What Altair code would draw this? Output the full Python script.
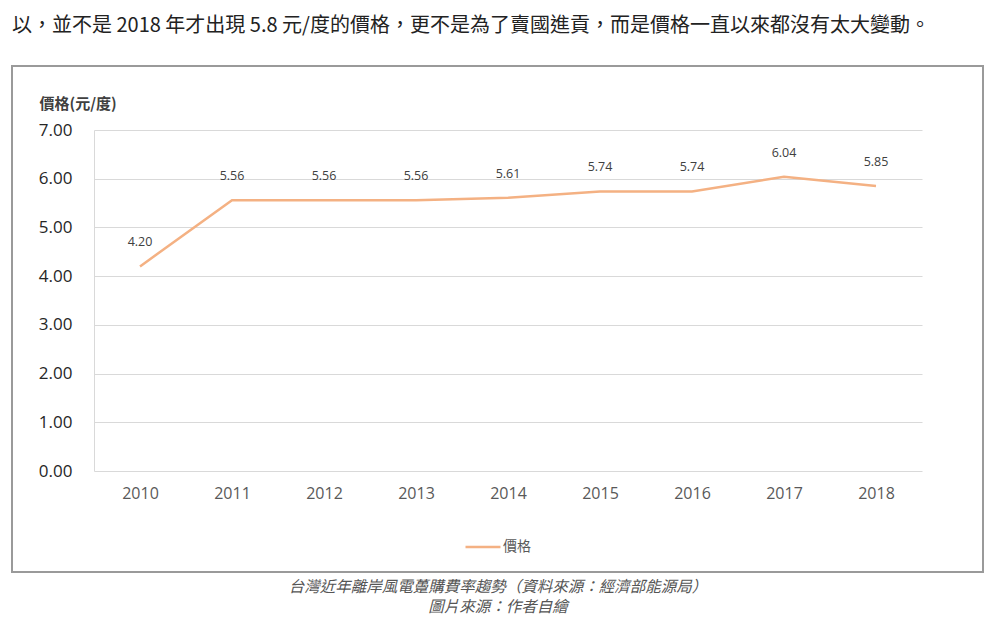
import altair as alt
import pandas as pd

years = ["2010", "2011", "2012", "2013", "2014", "2015", "2016", "2017", "2018"]
prices = [4.20, 5.56, 5.56, 5.56, 5.61, 5.74, 5.74, 6.04, 5.85]
series_name = "價格"
y_ticks = [0, 1, 2, 3, 4, 5, 6, 7]

intro_text = "以，並不是 2018 年才出現 5.8 元/度的價格，更不是為了賣國進貢，而是價格一直以來都沒有太大變動。"
caption_1 = "台灣近年離岸風電躉購費率趨勢（資料來源：經濟部能源局）"
caption_2 = "圖片來源：作者自繪"

df = pd.DataFrame({"year": years, "price": prices, "series": [series_name] * len(years)})
one = pd.DataFrame({"k": [0]})

CJK = "Noto Sans CJK TC"
LAT = "Open Sans"

W, H = 828, 341

x_enc = alt.X("year:N", sort=years,
              scale=alt.Scale(type="point", padding=0.5),
              axis=alt.Axis(title=None, labelAngle=0, labelFontSize=16, labelColor="#595959",
                            labelFont=LAT, labelPadding=14, ticks=False, domain=False, grid=False))
y_enc = alt.Y("price:Q", scale=alt.Scale(domain=[0, 7], nice=False, zero=True),
              axis=alt.Axis(values=y_ticks, format=".2f", labelFontSize=17, labelColor="#262626",
                            labelFont=LAT, labelPadding=22, ticks=False,
                            domain=True, domainColor="#D9D9D9", domainWidth=1,
                            grid=True, gridColor="#D9D9D9", gridWidth=1,
                            title="價格(元/度)", titleAngle=0, titleAlign="left",
                            titleBaseline="middle", titleX=-55, titleY=-27,
                            titleFont=CJK, titleFontSize=15, titleFontWeight="bold",
                            titleColor="#404040"))

line = alt.Chart(df).mark_line(strokeWidth=2.5).encode(
    x=x_enc, y=y_enc,
    color=alt.Color("series:N", scale=alt.Scale(domain=[series_name], range=["#F4B183"]),
                    legend=alt.Legend(title=None, orient="none", legendX=370, legendY=398,
                                      symbolType="stroke", symbolSize=1225,
                                      symbolStrokeWidth=2.5, labelFontSize=14,
                                      labelFont=CJK, labelColor="#595959", labelOffset=1)),
)

labels = alt.Chart(df).mark_text(dy=-24, fontSize=12.5, color="#404040", font=LAT).encode(
    x=alt.X("year:N", sort=years, scale=alt.Scale(type="point", padding=0.5)),
    y=alt.Y("price:Q", scale=alt.Scale(domain=[0, 7], nice=False)),
    text=alt.Text("price:Q", format=".2f"),
)

frame = alt.Chart(one).mark_rect(filled=False, stroke="#9a9a9a", strokeWidth=2).encode(
    x=alt.value(-82), x2=alt.value(889), y=alt.value(-64), y2=alt.value(442)
)

intro = alt.Chart(one).mark_text(align="left", baseline="alphabetic", fontSize=20,
                                 color="#222222", font=CJK).encode(
    x=alt.value(-82), y=alt.value(-98), text=alt.value(intro_text)
)

cap1 = alt.Chart(one).mark_text(align="center", baseline="middle", fontSize=15.5,
                                fontStyle="italic", color="#555555", font=CJK).encode(
    x=alt.value(404), y=alt.value(457), text=alt.value(caption_1)
)
cap2 = alt.Chart(one).mark_text(align="center", baseline="middle", fontSize=15.5,
                                fontStyle="italic", color="#555555", font=CJK).encode(
    x=alt.value(404), y=alt.value(477), text=alt.value(caption_2)
)

chart = alt.layer(frame, line, labels, intro, cap1, cap2).properties(
    width=W, height=H,
    padding={"left": 86, "top": 122, "right": 62, "bottom": 154},
    autosize=alt.AutoSizeParams(type="none"),
    background="white",
).configure_view(strokeOpacity=0)

chart.save("out.html", embed_options={"renderer": "svg", "actions": False})
